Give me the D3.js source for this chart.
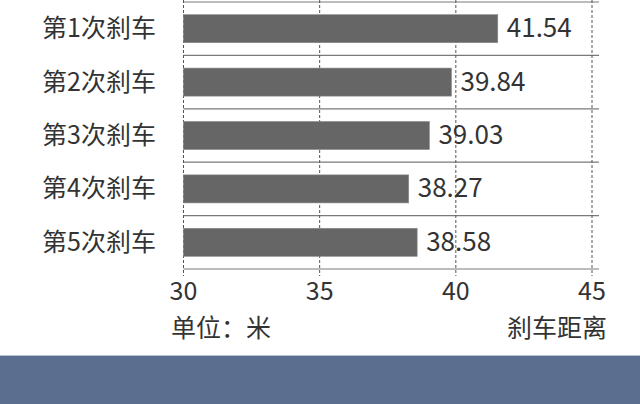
<!DOCTYPE html>
<html>
<head>
<meta charset="utf-8">
<script src="https://cdn.jsdelivr.net/npm/d3@7"></script>
<style>
    body { margin: 0; background: #fff; }
    svg { display: block; font-family: "Noto Sans CJK SC", "Noto Sans", sans-serif; }
</style>
</head>
<body>
<svg id="chart" width="640" height="404"></svg>
<script>
const categories = ["第1次刹车", "第2次刹车", "第3次刹车", "第4次刹车", "第5次刹车"];
const distances = [41.54, 39.84, 39.03, 38.27, 38.58];
const distanceLabels = ["41.54", "39.84", "39.03", "38.27", "38.58"];
const xTicks = [30, 35, 40, 45];
const unitLabel = "单位：米";
const axisTitle = "刹车距离";

const svg = d3.select("#chart");
const margin = { left: 183.5, right: 48, top: 2, bottom: 135 };
const lineRight = 599;

const x = d3.scaleLinear().domain([30, 45]).range([margin.left, 640 - margin.right]);
const y = d3.scaleBand()
    .domain(categories)
    .range([margin.top, 404 - margin.bottom])
    .paddingInner(0.475)
    .paddingOuter(0.2375);
const step = y.step();

// row separators
const rowEdges = categories.map(c => y(c) - step * y.paddingInner() / 2);
rowEdges.push(y.range()[1]);
svg.append("g").selectAll("line")
    .data(rowEdges)
    .join("line")
    .attr("x1", x(30))
    .attr("x2", lineRight)
    .attr("y1", d => d)
    .attr("y2", d => d)
    .attr("stroke", "#7a7a7a")
    .attr("stroke-width", 1.2);

// dashed gridlines
svg.append("g").selectAll("line")
    .data(xTicks)
    .join("line")
    .attr("x1", d => x(d))
    .attr("x2", d => x(d))
    .attr("y1", 0)
    .attr("y2", y.range()[1] + 7)
    .attr("stroke", "#555")
    .attr("stroke-width", 1)
    .attr("stroke-dasharray", "3,2");

// bars
svg.append("g").selectAll("rect")
    .data(distances)
    .join("rect")
    .attr("x", x(30))
    .attr("y", (d, i) => y(categories[i]))
    .attr("width", d => x(d) - x(30))
    .attr("height", y.bandwidth())
    .attr("fill", "#666")
    .attr("stroke", "#8a8a8a")
    .attr("stroke-width", 0.6);

// value labels
svg.append("g").selectAll("text")
    .data(distances)
    .join("text")
    .attr("x", d => x(d) + 9)
    .attr("y", (d, i) => y(categories[i]) + y.bandwidth() / 2 + 8.5)
    .attr("fill", "#333")
    .style("font-size", "26px")
    .text((d, i) => distanceLabels[i]);

// category labels
svg.append("g").selectAll("text")
    .data(categories)
    .join("text")
    .attr("x", 156)
    .attr("y", d => y(d) + y.bandwidth() / 2 + 8.5)
    .attr("text-anchor", "end")
    .attr("fill", "#333")
    .style("font-size", "25px")
    .text(d => d);

// tick labels
svg.append("g").selectAll("text")
    .data(xTicks)
    .join("text")
    .attr("x", d => x(d))
    .attr("y", 300)
    .attr("text-anchor", "middle")
    .attr("fill", "#333")
    .style("font-size", "25px")
    .text(d => d);

svg.append("text")
    .attr("x", 171)
    .attr("y", 337)
    .attr("fill", "#333")
    .style("font-size", "25px")
    .text(unitLabel);

svg.append("text")
    .attr("x", 607)
    .attr("y", 337)
    .attr("text-anchor", "end")
    .attr("fill", "#333")
    .style("font-size", "25px")
    .text(axisTitle);

// footer band
svg.append("rect")
    .attr("x", 0)
    .attr("y", 355)
    .attr("width", 640)
    .attr("height", 49)
    .attr("fill", "#5b6e8f");
svg.append("line")
    .attr("x1", 0)
    .attr("x2", 640)
    .attr("y1", 355.5)
    .attr("y2", 355.5)
    .attr("stroke", "#b9c2d4")
    .attr("stroke-width", 1);
</script>
</body>
</html>
